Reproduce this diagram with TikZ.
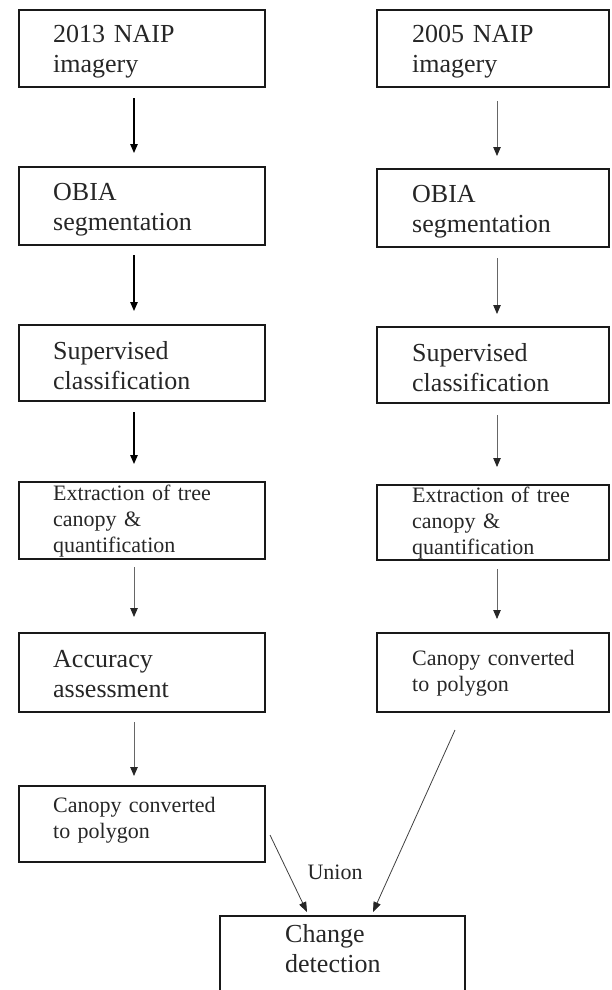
\documentclass[tikz,border=0pt]{standalone}
\usepackage{fontspec}
\setmainfont{Liberation Serif}
\usetikzlibrary{arrows.meta}
\begin{document}
\begin{tikzpicture}[x=1pt,y=-1pt,
  box/.style={draw=black!90, line width=2pt, inner sep=0pt, fill=none},
  bigtxt/.style={font=\fontsize{26}{30}\selectfont, text=black!85, text width=220pt, align=left, inner sep=0pt, anchor=base west},
  smalltxt/.style={font=\fontsize{22}{26}\selectfont, text=black!85, text width=220pt, align=left, inner sep=0pt, anchor=base west},
  darr/.style={draw=black, line width=1.2pt, -{Triangle[length=9pt,width=7.5pt]}},
  garr/.style={draw=black!60, line width=0.8pt, -{Triangle[length=9pt,width=7.5pt,color=black!85]}},
  diag/.style={draw=black!75, line width=0.8pt, -{Triangle[length=10pt,width=7.5pt,color=black!85]}}
]
\useasboundingbox (0,0) rectangle (611,990);

% left column boxes
\node[box, minimum width=246pt, minimum height=77pt] (L1) at (142,48.5) {};
\node[box, minimum width=246pt, minimum height=78pt] (L2) at (142,206) {};
\node[box, minimum width=246pt, minimum height=76pt] (L3) at (142,363) {};
\node[box, minimum width=246pt, minimum height=77pt] (L4) at (142,520.5) {};
\node[box, minimum width=246pt, minimum height=79pt] (L5) at (142,672.5) {};
\node[box, minimum width=246pt, minimum height=76pt] (L6) at (142,824) {};

% right column boxes
\node[box, minimum width=232pt, minimum height=77pt] (R1) at (493,48.5) {};
\node[box, minimum width=232pt, minimum height=78pt] (R2) at (493,208) {};
\node[box, minimum width=232pt, minimum height=76pt] (R3) at (493,365) {};
\node[box, minimum width=232pt, minimum height=75pt] (R4) at (493,522) {};
\node[box, minimum width=232pt, minimum height=79pt] (R5) at (493,672.5) {};

% bottom box
\node[box, minimum width=245pt, minimum height=100pt] (C) at (342.5,966) {};

% texts left
\node[bigtxt] (L1t) at (53,43) {2013 NAIP\\imagery};
\node[bigtxt] (L2t) at (53,200) {OBIA\\segmentation};
\node[bigtxt] (L3t) at (53,359) {Supervised\\classification};
\node[smalltxt] (L4t) at (53,500) {Extraction of tree\\canopy \&\\quantification};
\node[bigtxt] (L5t) at (53,667) {Accuracy\\assessment};
\node[smalltxt] (L6t) at (53,812) {Canopy converted\\to polygon};

% texts right
\node[bigtxt] (R1t) at (412,43) {2005 NAIP\\imagery};
\node[bigtxt] (R2t) at (412,202) {OBIA\\segmentation};
\node[bigtxt] (R3t) at (412,361) {Supervised\\classification};
\node[smalltxt] (R4t) at (412,502) {Extraction of tree\\canopy \&\\quantification};
\node[smalltxt] (R5t) at (412,665) {Canopy converted\\to polygon};

% bottom text
\node[bigtxt] (Ct) at (285,942) {Change\\detection};

% coordinates for arrows
\coordinate (a1s) at (134,98);  \coordinate (a1e) at (134,153);
\coordinate (a2s) at (134,255); \coordinate (a2e) at (134,311);
\coordinate (a3s) at (134,412); \coordinate (a3e) at (134,464);
\coordinate (a4s) at (134,567); \coordinate (a4e) at (134,617);
\coordinate (a5s) at (134,722); \coordinate (a5e) at (134,776);

\coordinate (b1s) at (497,101); \coordinate (b1e) at (497,156);
\coordinate (b2s) at (497,258); \coordinate (b2e) at (497,314);
\coordinate (b3s) at (497,415); \coordinate (b3e) at (497,467);
\coordinate (b4s) at (497,569); \coordinate (b4e) at (497,619);

\draw[darr] (a1s) -- (a1e);
\draw[darr] (a2s) -- (a2e);
\draw[darr] (a3s) -- (a3e);
\draw[garr] (a4s) -- (a4e);
\draw[garr] (a5s) -- (a5e);

\draw[garr] (b1s) -- (b1e);
\draw[garr] (b2s) -- (b2e);
\draw[garr] (b3s) -- (b3e);
\draw[garr] (b4s) -- (b4e);

% diagonals into change detection
\coordinate (d1s) at (270,835); \coordinate (d1e) at (307,912);
\coordinate (d2s) at (455,730); \coordinate (d2e) at (373,912);
\draw[diag] (d1s) -- (d1e);
\draw[diag] (d2s) -- (d2e);

\node[font=\fontsize{22}{26}\selectfont, text=black!85, inner sep=0pt] (U) at (335,872) {Union};
\end{tikzpicture}
\end{document}
